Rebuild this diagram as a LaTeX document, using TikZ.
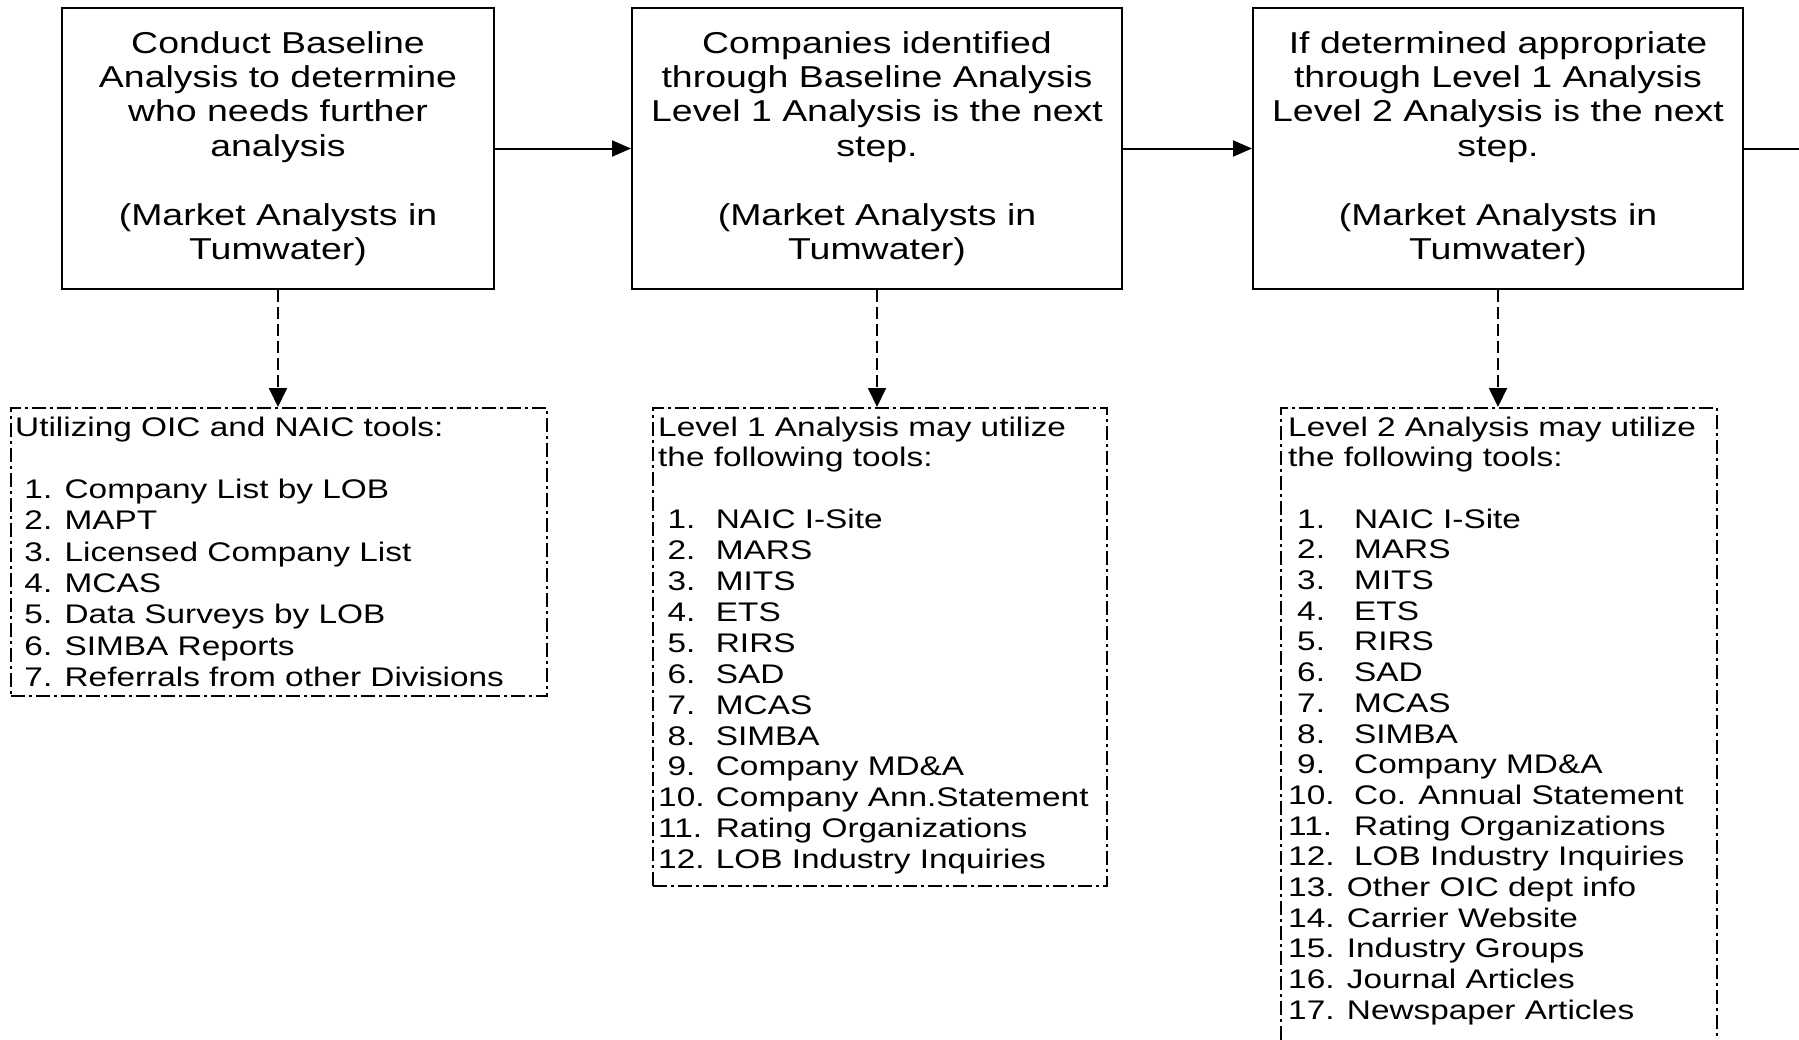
\documentclass[tikz,border=0pt]{standalone}
\usepackage{fontspec}
\setmainfont{Liberation Sans}[FakeStretch=1.24]
\usetikzlibrary{arrows.meta}
\tikzset{
 stepbox/.style={draw, line width=2pt, minimum height=281pt, inner sep=0pt, align=center,
   font=\fontsize{30.2}{34.4}\selectfont},
 toolbox/.style={draw, line width=1.8pt, dash pattern=on 14pt off 4pt on 3pt off 4pt,
   anchor=north west, inner sep=0pt},
 toollist/.style={anchor=base west, inner sep=0pt, font=\fontsize{26.9}{30.9}\selectfont},
 flow/.style={line width=2pt, -{Triangle[length=19pt,width=16pt]}},
 uses/.style={line width=1.8pt, dash pattern=on 12pt off 5pt, -{Triangle[length=19pt,width=18pt]}},
}
\newcommand{\numA}[1]{\makebox[57.7pt][l]{#1}}
\newcommand{\numB}[1]{\makebox[66pt][l]{#1}}
\begin{document}
\begin{tikzpicture}[x=1pt,y=-1pt]
\path[fill=white,use as bounding box] (0,0) rectangle (1799,1039);
\clip (0,0) rectangle (1799,1039);

% step boxes
\node[stepbox, minimum width=432pt] (s1) at (278,148.5)
  {Conduct Baseline\\Analysis to determine\\who needs further\\analysis\\[34.4pt](Market Analysts in\\Tumwater)};
\node[stepbox, minimum width=490pt] (s2) at (877,148.5)
  {Companies identified\\through Baseline Analysis\\Level 1 Analysis is the next\\step.\\[34.4pt](Market Analysts in\\Tumwater)};
\node[stepbox, minimum width=490pt] (s3) at (1498,148.5)
  {If determined appropriate\\through Level 1 Analysis\\Level 2 Analysis is the next\\step.\\[34.4pt](Market Analysts in\\Tumwater)};
\coordinate (out) at (1799,148.5);

% tool boxes
\node[toolbox, minimum width=536pt, minimum height=288pt] (b1) at (10,407) {};
\node[toolbox, minimum width=454pt, minimum height=478pt] (b2) at (652,407) {};
\node[toolbox, minimum width=436pt, minimum height=660pt] (b3) at (1280,407) {};

% tool lists
\node[toollist, font=\fontsize{26.9}{31.3}\selectfont] (l1) at (15,436) {\begin{tabular}[t]{@{}l@{}}
Utilizing OIC and NAIC tools:\\
\\
\hspace*{9.3pt}1. Company List by LOB\\
\hspace*{9.3pt}2. MAPT\\
\hspace*{9.3pt}3. Licensed Company List\\
\hspace*{9.3pt}4. MCAS\\
\hspace*{9.3pt}5. Data Surveys by LOB\\
\hspace*{9.3pt}6. SIMBA Reports\\
\hspace*{9.3pt}7. Referrals from other Divisions
\end{tabular}};

\node[toollist] (l2) at (658,436) {\begin{tabular}[t]{@{}l@{}}
Level 1 Analysis may utilize\\
the following tools:\\
\\
\numA{\hspace*{9.3pt}1.}NAIC I-Site\\
\numA{\hspace*{9.3pt}2.}MARS\\
\numA{\hspace*{9.3pt}3.}MITS\\
\numA{\hspace*{9.3pt}4.}ETS\\
\numA{\hspace*{9.3pt}5.}RIRS\\
\numA{\hspace*{9.3pt}6.}SAD\\
\numA{\hspace*{9.3pt}7.}MCAS\\
\numA{\hspace*{9.3pt}8.}SIMBA\\
\numA{\hspace*{9.3pt}9.}Company MD\&A\\
\numA{10.}Company Ann.Statement\\
\numA{11.}Rating Organizations\\
\numA{12.}LOB Industry Inquiries
\end{tabular}};

\node[toollist, font=\fontsize{26.9}{30.7}\selectfont] (l3) at (1288,436) {\begin{tabular}[t]{@{}l@{}}
Level 2 Analysis may utilize\\
the following tools:\\
\\
\numB{\hspace*{9pt}1.}NAIC I-Site\\
\numB{\hspace*{9pt}2.}MARS\\
\numB{\hspace*{9pt}3.}MITS\\
\numB{\hspace*{9pt}4.}ETS\\
\numB{\hspace*{9pt}5.}RIRS\\
\numB{\hspace*{9pt}6.}SAD\\
\numB{\hspace*{9pt}7.}MCAS\\
\numB{\hspace*{9pt}8.}SIMBA\\
\numB{\hspace*{9pt}9.}Company MD\&A\\
\numB{10.}Co. Annual Statement\\
\numB{11.}Rating Organizations\\
\numB{12.}LOB Industry Inquiries\\
13. Other OIC dept info\\
14. Carrier Website\\
15. Industry Groups\\
16. Journal Articles\\
17. Newspaper Articles
\end{tabular}};

% connectors
\draw[flow] (s1) -- (s2);
\draw[flow] (s2) -- (s3);
\draw[line width=2pt] (s3.east) -- (out);
\draw[uses] (s1.south) -- (s1.south |- b1.north);
\draw[uses] (s2.south) -- (s2.south |- b2.north);
\draw[uses] (s3.south) -- (s3.south |- b3.north);
\end{tikzpicture}
\end{document}
